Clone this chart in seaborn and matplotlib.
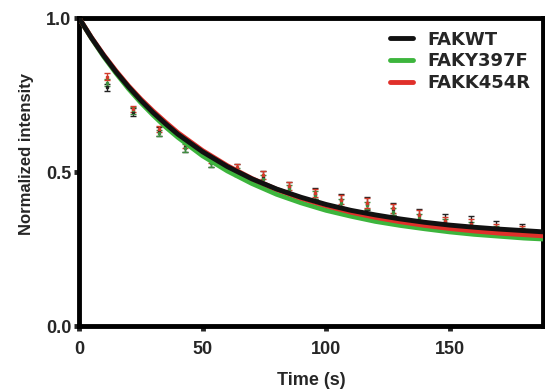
import numpy as np
import pandas as pd
import matplotlib
matplotlib.use("Agg")
import matplotlib.pyplot as plt
import seaborn as sns

# fitted curves
curve_t = [0, 5, 10, 15, 20, 25, 30, 35, 40, 50, 60, 70, 80, 90, 100,
           110, 120, 130, 140, 150, 160, 170, 180, 190]
fit_wt = [1.0, 0.936, 0.878, 0.825, 0.777, 0.733, 0.693, 0.657, 0.623, 0.566,
          0.518, 0.478, 0.445, 0.418, 0.395, 0.376, 0.361, 0.348, 0.337, 0.328,
          0.321, 0.315, 0.310, 0.305]
fit_y397f = [1.0, 0.935, 0.875, 0.821, 0.771, 0.726, 0.685, 0.647, 0.613, 0.553,
             0.504, 0.463, 0.428, 0.400, 0.376, 0.357, 0.340, 0.327, 0.316, 0.306,
             0.298, 0.292, 0.286, 0.282]
fit_k454r = [1.0, 0.937, 0.880, 0.828, 0.780, 0.737, 0.698, 0.662, 0.628, 0.570,
             0.521, 0.479, 0.444, 0.415, 0.391, 0.370, 0.353, 0.339, 0.327, 0.317,
             0.309, 0.302, 0.297, 0.292]

# measured points with error bars
pt_t = [11.5, 22, 32.5, 43, 53.5, 64, 74.5, 85, 95.5, 106, 116.5, 127,
        137.5, 148, 158.5, 169, 179.5]
wt_mean = [0.775, 0.695, 0.632, 0.583, 0.532, 0.508, 0.485, 0.450, 0.430, 0.408,
           0.398, 0.380, 0.360, 0.342, 0.334, 0.320, 0.312]
wt_err = [0.012, 0.012, 0.015, 0.017, 0.017, 0.018, 0.020, 0.018, 0.017, 0.020,
          0.020, 0.020, 0.020, 0.022, 0.022, 0.022, 0.020]
y397f_mean = [0.790, 0.700, 0.628, 0.578, 0.528, 0.500, 0.478, 0.445, 0.425, 0.400,
              0.392, 0.372, 0.352, 0.335, 0.325, 0.313, 0.305]
y397f_err = [0.012, 0.010, 0.010, 0.012, 0.012, 0.012, 0.013, 0.012, 0.012, 0.012,
             0.012, 0.012, 0.012, 0.012, 0.012, 0.012, 0.012]
k454r_mean = [0.810, 0.705, 0.640, 0.590, 0.540, 0.515, 0.490, 0.455, 0.432, 0.410,
              0.400, 0.382, 0.360, 0.340, 0.333, 0.318, 0.310]
k454r_err = [0.010, 0.010, 0.010, 0.012, 0.012, 0.012, 0.013, 0.013, 0.013, 0.015,
             0.015, 0.015, 0.017, 0.015, 0.015, 0.015, 0.015]

names = ["FAKWT", "FAKY397F", "FAKK454R"]
colors = {"FAKWT": "#111111", "FAKY397F": "#3db53d", "FAKK454R": "#e0302a"}
bar_colors = {"FAKWT": "#222222", "FAKY397F": "#3f8f3f", "FAKK454R": "#d23a2a"}

curves = pd.DataFrame({
    "t": curve_t * 3,
    "y": fit_wt + fit_y397f + fit_k454r,
    "group": ["FAKWT"] * len(curve_t) + ["FAKY397F"] * len(curve_t) + ["FAKK454R"] * len(curve_t),
})

sns.set_style("white")
plt.rcParams["font.family"] = ["Liberation Sans", "DejaVu Sans"]
plt.rcParams["font.weight"] = "bold"

fig = plt.figure(figsize=(5.45, 3.92), dpi=100)
ax = fig.add_axes([0.145, 0.168, 0.852, 0.786])

points = {"FAKWT": (wt_mean, wt_err),
          "FAKY397F": (y397f_mean, y397f_err),
          "FAKK454R": (k454r_mean, k454r_err)}
for g in ["FAKWT", "FAKY397F", "FAKK454R"]:
    m, e = points[g]
    ax.errorbar(pt_t, m, yerr=e, fmt="s", ms=2, color=bar_colors[g],
                elinewidth=1, capsize=2.2, capthick=1, zorder=2)

# draw green first, then red, then black on top
order = ["FAKY397F", "FAKK454R", "FAKWT"]
for g in order:
    sns.lineplot(data=curves[curves["group"] == g], x="t", y="y", color=colors[g],
                 lw=3.5, ax=ax, label=g, zorder=3)

handles, labels = ax.get_legend_handles_labels()
hmap = dict(zip(labels, handles))
ax.legend([hmap[n] for n in names], names, loc="upper right", frameon=False,
          handlelength=1.3, handletextpad=0.8, labelspacing=0.2,
          borderaxespad=0.3, borderpad=0.4,
          prop={"family": "DejaVu Sans", "weight": "bold", "size": 13})

ax.set_xlim(0, 188)
ax.set_ylim(0, 1.0)
ax.set_xticks([0, 50, 100, 150])
ax.set_yticks([0.0, 0.5, 1.0])
ax.set_yticklabels(["0.0", "0.5", "1.0"])
ax.set_xlabel("Time (s)", fontsize=13, fontweight="bold", labelpad=10)
ax.set_ylabel("Normalized intensity", fontsize=12, fontweight="bold")
ax.yaxis.set_label_coords(-0.097, 0.558)
ax.tick_params(axis="both", direction="out", length=3.5, width=3.5, labelsize=13,
               bottom=True, left=True)
ax.tick_params(axis="x", pad=7)
ax.tick_params(axis="y", pad=2)
for lab in ax.get_xticklabels() + ax.get_yticklabels():
    lab.set_fontweight("bold")
for s in ax.spines.values():
    s.set_linewidth(3.5)
    s.set_color("black")

fig.savefig("out.png", dpi=100)
